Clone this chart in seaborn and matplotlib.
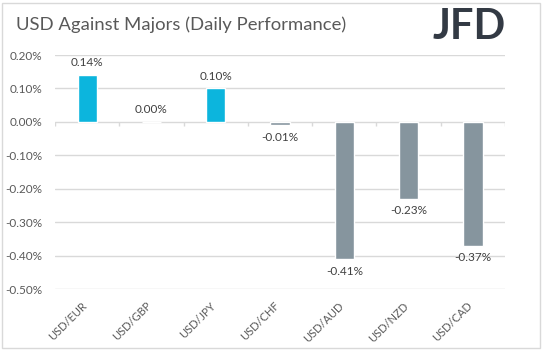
import numpy as np
import pandas as pd
import seaborn as sns
import matplotlib.pyplot as plt
from matplotlib.patches import Rectangle
from matplotlib.transforms import ScaledTranslation

pairs = ['USD/EUR', 'USD/GBP', 'USD/JPY', 'USD/CHF', 'USD/AUD', 'USD/NZD', 'USD/CAD']
changes = [0.14, 0.00, 0.10, -0.01, -0.41, -0.23, -0.37]
y_ticks = [0.2, 0.1, 0.0, -0.1, -0.2, -0.3, -0.4, -0.5]

UP_COLOR = '#0cb5dd'
DOWN_COLOR = '#86959e'
TEXT_COLOR = '#595959'
GRID_COLOR = '#d9d9d9'


def main():
    sns.set_theme(style='white')
    plt.rcParams['font.family'] = ['Lato', 'DejaVu Sans']

    df = pd.DataFrame({'pair': pairs, 'change': changes})
    colors = [UP_COLOR if v >= 0 else DOWN_COLOR for v in changes]

    fig = plt.figure(figsize=(5.43, 3.51), dpi=100)
    ax = fig.add_axes([55 / 543, 1 - 289 / 351, 450 / 543, 234 / 351])

    for y in y_ticks:
        ax.axhline(y, color=GRID_COLOR, lw=1, zorder=0)

    sns.barplot(data=df, x='pair', y='change', hue='pair', palette=colors,
                legend=False, width=0.3, saturation=1, ax=ax, zorder=2)

    ax.vlines(np.arange(-0.5, len(pairs)), -0.012, 0, color=GRID_COLOR, lw=1, zorder=1)

    ax.set_xlim(-0.5, len(pairs) - 0.5)
    ax.set_ylim(-0.5, 0.2)
    ax.set_yticks(y_ticks)
    ax.set_yticklabels(['{:.2f}%'.format(v) for v in y_ticks])
    ax.set_xlabel('')
    ax.set_ylabel('')
    for s in ax.spines.values():
        s.set_visible(False)
    ax.tick_params(axis='both', length=0, labelsize=8.5, colors=TEXT_COLOR)
    ax.tick_params(axis='y', pad=9)
    ax.tick_params(axis='x', labelsize=8, pad=8)
    shift = ScaledTranslation(-6 / 100, 0, fig.dpi_scale_trans)
    for lbl in ax.get_xticklabels():
        lbl.set_rotation(45)
        lbl.set_ha('right')
        lbl.set_rotation_mode('anchor')
        lbl.set_transform(lbl.get_transform() + shift)

    for i, v in enumerate(changes):
        if v >= 0:
            ax.text(i, v + 0.02, '{:.2f}%'.format(v), ha='center', va='bottom',
                    fontsize=8.5, color='#404040')
        else:
            ax.text(i, v - 0.02, '{:.2f}%'.format(v), ha='center', va='top',
                    fontsize=8.5, color='#404040')

    fig.text(16 / 543, 1 - 25 / 351, 'USD Against Majors (Daily Performance)',
             fontsize=13.3, color=TEXT_COLOR, va='center', ha='left')
    fig.text(506 / 543, 1 - 27 / 351, 'JFD', fontsize=30, fontweight='bold',
             color='#333a44', va='center', ha='right')

    fig.patches.append(Rectangle((2 / 543, 3 / 351), 538 / 543, 345 / 351,
                                 transform=fig.transFigure, fill=False,
                                 edgecolor=GRID_COLOR, lw=1))

    fig.savefig('out.png', dpi=100)


if __name__ == '__main__':
    main()
